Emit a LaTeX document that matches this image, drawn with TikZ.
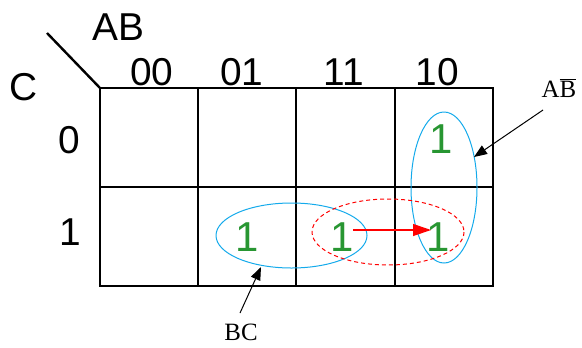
\documentclass[tikz,border=0pt]{standalone}
\usepackage{fontspec}
\setmainfont{Liberation Serif}
\newfontfamily\kfont{Liberation Sans}
\usetikzlibrary{arrows.meta}
\definecolor{onegreen}{RGB}{40,150,50}
\definecolor{loopblue}{RGB}{20,170,235}
\begin{document}
\begin{tikzpicture}[x=1bp,y=-1bp,
  grid/.style={line width=2bp,black},
  hdr/.style={font=\kfont\fontsize{39}{39}\selectfont,anchor=base,inner sep=0},
  one/.style={font=\kfont\fontsize{42}{42}\selectfont,text=onegreen,anchor=base,inner sep=0},
  lbl/.style={font=\fontsize{25}{25}\selectfont,anchor=base,inner sep=0},
  loopb/.style={draw=loopblue,line width=1bp},
  loopr/.style={draw=red,line width=1bp,dash pattern=on 4bp off 3bp},
  ptr/.style={line width=1bp,-{Triangle[length=13bp,width=10bp]}}]
\useasboundingbox (0,0) rectangle (582,347);
% grid
\draw[grid] (100,88) rectangle (493,286);
\draw[grid] (198,88) -- (198,286);
\draw[grid] (296,88) -- (296,286);
\draw[grid] (395,88) -- (395,286);
\draw[grid] (100,187) -- (493,187);
\draw[line width=2.4bp] (47,33) -- (100,88);
% headers
\node[hdr] (ab) at (118,40) {AB};
\node[hdr] (c) at (24,100) {C};
\node[hdr] (h00) at (152,85) {00};
\node[hdr] (h01) at (242,85) {01};
\node[hdr] (h11) at (344,85) {11};
\node[hdr] (h10) at (437,85) {10};
\node[hdr] (r0) at (69,153) {0};
\node[hdr] (r1) at (70,245) {1};
% ones
\node[one] (m2) at (441,153) {1};
\node[one] (m3) at (247,251) {1};
\node[one] (m7) at (342,251) {1};
\node[one] (m6) at (438,251) {1};
% loops
\draw[loopb] (291.5,235.5) ellipse [x radius=75.5,y radius=32.5];
\draw[loopb] (444,187.5) ellipse [x radius=33,y radius=75.5];
\draw[loopr] (388,232) ellipse [x radius=76,y radius=33];
% moves
\coordinate (rs) at (353,230);
\coordinate (re) at (431,230);
\draw[draw=red,line width=1.2bp,-{Triangle[length=18bp,width=12bp]},red] (rs) -- (re);
% labels
\node[lbl] (abbar) at (559,97) {A$\overline{\mathrm{B}}$};
\node[lbl] (bc) at (241,340) {BC};
\coordinate (abt) at (474,157);
\coordinate (abs) at (543,110);
\coordinate (bct) at (261,267);
\coordinate (bcs) at (240,313);
\draw[ptr] (abs) -- (abt);
\draw[ptr] (bcs) -- (bct);
\end{tikzpicture}
\end{document}
